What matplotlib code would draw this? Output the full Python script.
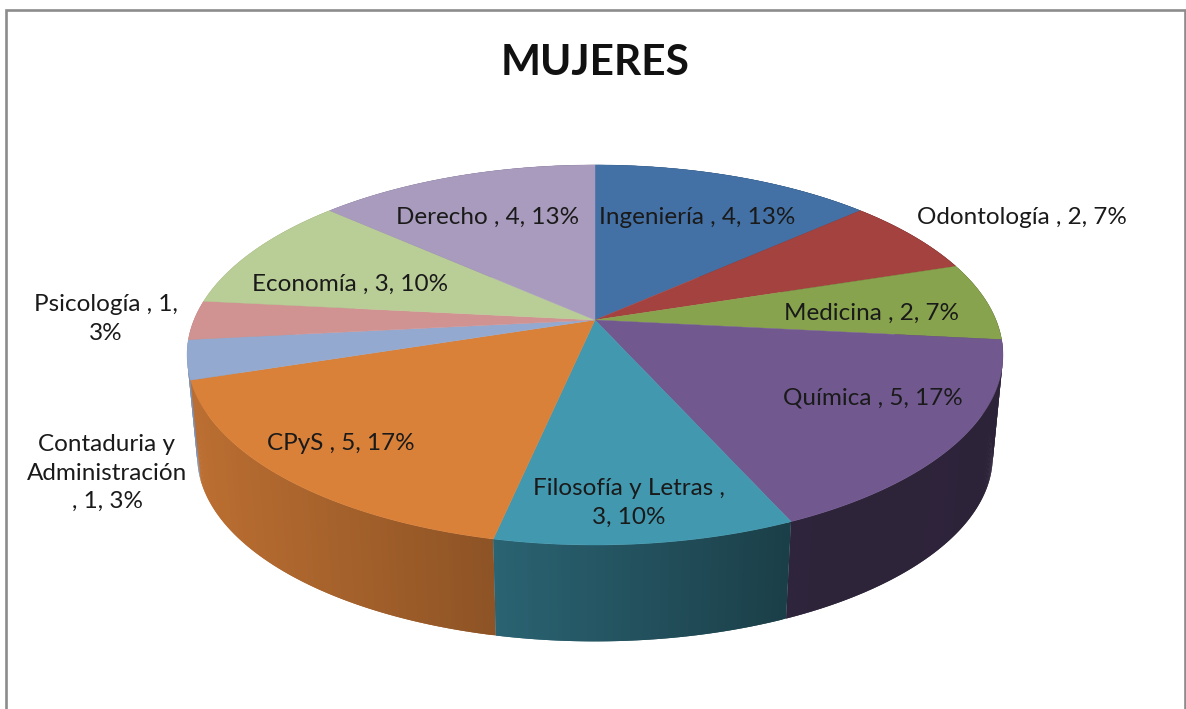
import textwrap
import numpy as np
import matplotlib
matplotlib.use("Agg")
import matplotlib.pyplot as plt
from matplotlib.colors import to_rgb

title = "MUJERES"
categories = ["Ingeniería", "Odontología", "Medicina", "Química", "Filosofía y Letras",
              "CPyS", "Contaduria y Administración", "Psicología", "Economía", "Derecho"]
values = [4, 2, 2, 5, 3, 5, 1, 1, 3, 4]
colors = ["#4371a5", "#a3423f", "#87a34d", "#71588f", "#4198af",
          "#d98039", "#93a9cf", "#d19392", "#b9cd96", "#a99bbd"]
wrap_widths = [None, None, None, None, 20, None, 14, 15, None, None]
label_x = [697, 1022, 872, 873, 629, 341, 107, 106, 350, 488]
label_y = [218, 218, 313, 398, 503, 443, 473, 319, 284, 217]

# pie geometry in pixels, perspective view of a disc
cx, cy = 595, 320
a, b, k = 401, 183.6, 0.184
wall_scale, wall_drop = 0.975, 102


def rim(theta, r=1.0):
    # theta clockwise from the top of the disc
    u = r * np.sin(theta)
    v = r * np.cos(theta)
    w = 1 + k * v
    return a * u / w, -b * v / w


def wall_shade(x):
    return np.interp(x, [200, 495, 790, 1000], [0.86, 0.65, 0.41, 0.40])


fig = plt.figure(figsize=(11.86, 7.09), dpi=100)
ax = fig.add_axes([0, 0, 1, 1])
ax.set_xlim(0, 1186)
ax.set_ylim(709, 0)
ax.axis("off")

# chart frame, open at the bottom
ax.plot([5.5, 5.5, 1184.5, 1184.5], [709, 9.5, 9.5, 709], color="#8c8c8c", lw=1.9,
        solid_joinstyle="miter")

total = sum(values)
edges = np.cumsum([0] + values) / total * 2 * np.pi
mids = (edges[:-1] + edges[1:]) / 2

# side walls first, back slices before front ones, thin overlapping strips for the shading
for i in np.argsort(-np.cos(mids)):
    steps = np.linspace(edges[i], edges[i + 1], max(2, values[i] * 24))
    base = np.array(to_rgb(colors[i]))
    for j in range(len(steps) - 1):
        x0, y0 = rim(steps[j])
        x1, y1 = rim(steps[min(j + 2, len(steps) - 1)])
        xs = [cx + x0, cx + x1, cx + wall_scale * x1, cx + wall_scale * x0]
        ys = [cy + y0, cy + y1, cy + wall_drop + wall_scale * y1, cy + wall_drop + wall_scale * y0]
        shade = base * wall_shade(np.mean(xs))
        ax.fill(xs, ys, color=shade, lw=0, zorder=2)

# top of the pie
for i in range(len(values)):
    t = np.linspace(edges[i], edges[i + 1], values[i] * 30)
    x, y = rim(t)
    ax.fill(np.r_[cx, cx + x], np.r_[cy, cy + y], color=colors[i], lw=0.3, zorder=3)

plt.rcParams["font.family"] = ["Lato", "DejaVu Sans"]

for i in range(len(values)):
    label = f"{categories[i]} , {values[i]}, {round(values[i] / total * 100)}%"
    if wrap_widths[i]:
        label = textwrap.fill(label, wrap_widths[i])
    ax.text(label_x[i], label_y[i], label, ha="center", va="center", fontsize=17.5,
            color="#1a1a1a", linespacing=1.42, zorder=4)

ax.text(595, 63, title, ha="center", va="center", fontsize=30.5, fontweight="bold",
        color="#111111", zorder=4)

fig.savefig("out.png", dpi=100, facecolor="white")
